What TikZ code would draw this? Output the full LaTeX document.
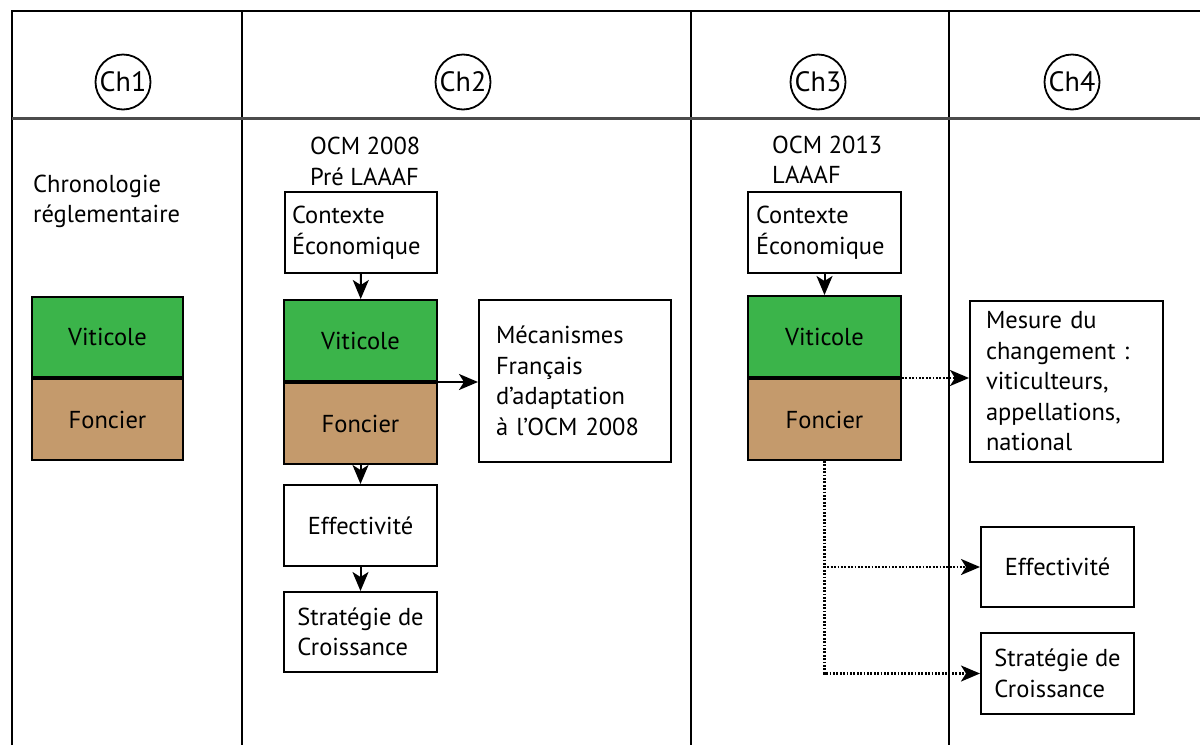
\documentclass[tikz,border=0pt]{standalone}
\usepackage{fontspec}
\setmainfont{PT Sans}
\usetikzlibrary{arrows.meta}
\definecolor{vgreen}{HTML}{3BB44A}
\definecolor{fbrown}{HTML}{C49A6C}
\begin{document}
\begin{tikzpicture}[x=1pt,y=-1pt,
  font=\fontsize{24.5}{30.5}\selectfont,
  frameline/.style={line width=2.4pt, black},
  hdrline/.style={line width=3pt, black!70},
  chap/.style={circle, draw, line width=1.8pt, minimum size=55pt, inner sep=0pt, font=\fontsize{28}{30}\selectfont},
  box/.style={draw, line width=2pt, fill=white, inner sep=0pt, align=left},
  vitbox/.style={box, fill=vgreen, align=center},
  fonbox/.style={box, fill=fbrown, align=center},
  lbl/.style={inner sep=0pt, align=left, anchor=west},
  arr/.style={line width=2pt, -{Stealth[length=19pt,width=16pt,inset=5pt]}},
  dotarr/.style={line width=2.2pt, dash pattern=on 1.8pt off 1.6pt, -{Stealth[length=19pt,width=16pt,inset=5pt]}}
]
\useasboundingbox (0,0) rectangle (1200,745);
% grid
\draw[frameline] (12,745) -- (12,11) -- (1200,11);
\draw[frameline] (242,11) -- (242,745);
\draw[frameline] (691,11) -- (691,745);
\draw[frameline] (949,11) -- (949,745);
\draw[hdrline] (12,118) -- (1200,118);
% chapter circles
\node[chap] (c1) at (123,82) {Ch1};
\node[chap] (c2) at (463,82) {Ch2};
\node[chap] (c3) at (818,82) {Ch3};
\node[chap] (c4) at (1072,82) {Ch4};
% column 1
\node[lbl] (chrono) at (33,201.5) {Chronologie\\réglementaire};
\node[vitbox, minimum width=151pt, minimum height=80pt] (vit1) at (107.5,337) {Viticole};
\node[fonbox, minimum width=151pt, minimum height=81pt, anchor=north] (fon1) at (vit1.south) {Foncier};
% column 2
\node[lbl] (ocm2) at (310,161.5) {OCM 2008\\Pré LAAAF};
\node[box, minimum width=152pt, minimum height=81pt, text width=138pt, inner xsep=7pt] (ctx2) at (361,232.5) {Contexte\\Économique};
\node[vitbox, minimum width=153pt, minimum height=81pt] (vit2) at (360.5,340.5) {Viticole};
\node[fonbox, minimum width=153pt, minimum height=81pt, anchor=north] (fon2) at (vit2.south) {Foncier};
\node[box, minimum height=162pt, text width=158pt, inner xsep=17pt] (mec) at (575,381) {Mécanismes\\Français\\d’adaptation\\à l’OCM 2008};
\node[box, minimum width=153pt, minimum height=81pt] (eff2) at (360.5,525.5) {Effectivité};
\node[box, minimum width=153pt, minimum height=80pt] (str2) at (360.5,632) {Stratégie de\\Croissance};
\draw[arr] (ctx2) -- (vit2);
\draw[arr] (vit2.south east) -- (vit2.south east -| mec.west);
\draw[arr] (fon2) -- (eff2);
\draw[arr] (eff2) -- (str2);
% column 3
\node[lbl] (ocm3) at (772,160) {OCM 2013\\LAAAF};
\node[box, minimum width=153pt, minimum height=81pt, text width=137pt, inner xsep=8pt] (ctx3) at (824.5,232.5) {Contexte\\Économique};
\node[vitbox, minimum width=153pt, minimum height=81pt] (vit3) at (824.5,336.5) {Viticole};
\node[fonbox, minimum width=153pt, minimum height=81pt, anchor=north] (fon3) at (vit3.south) {Foncier};
\draw[arr] (ctx3) -- (vit3);
% column 4
\node[box, minimum height=161pt, text width=161pt, inner xsep=16pt] (mes) at (1066.5,381.5) {Mesure du\\changement :\\viticulteurs,\\appellations,\\national};
\node[box, minimum width=153pt, minimum height=80pt] (eff4) at (1057.5,567) {Effectivité};
\node[box, minimum width=153pt, minimum height=81pt] (str4) at (1057.5,673.5) {Stratégie de\\Croissance};
\draw[dotarr] (vit3.south east) -- (vit3.south east -| mes.west);
\draw[dotarr] (fon3.south) |- (eff4.west);
\draw[dotarr] (fon3.south) |- (str4.west);
\end{tikzpicture}
\end{document}
